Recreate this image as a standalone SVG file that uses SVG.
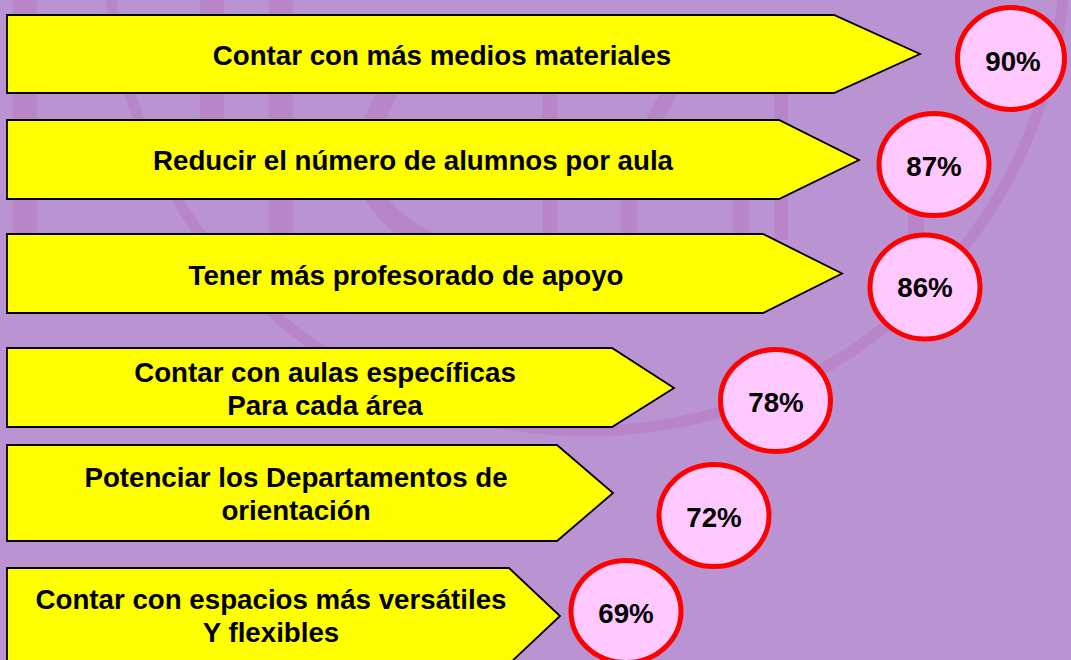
<svg xmlns="http://www.w3.org/2000/svg" width="1071" height="660" viewBox="0 0 1071 660">
<style>
.bg{fill:#BA93D2}
.wm{fill:none;stroke:#B985C9}
.arrow{fill:#FFFF00;stroke:#000;stroke-width:1.8;stroke-linejoin:miter}
.pct{fill:#FFC8FF;stroke:#FF0000;stroke-width:5}
.t{font-family:"Liberation Sans",Arial,sans-serif;font-weight:bold;font-size:27.7px;fill:#000;text-anchor:middle}
</style>
<rect class="bg" x="0" y="0" width="1071" height="660"/>
<g id="watermark" class="wm">
  <circle cx="587" cy="-47" r="478" stroke-width="11"/>
  <path d="M25 0V245" stroke-width="24"/>
  <path d="M212 0V190" stroke-width="24"/>
  <path d="M281 0V240" stroke-width="24"/>
  <path d="M420 45C392 80 368 120 366 160C366 205 400 235 470 258" stroke-width="20"/>
  <path d="M550 60V240" stroke-width="15"/>
  <path d="M700 40C668 95 632 150 629 200V240" stroke-width="16"/>
  <path d="M741 150V240" stroke-width="16"/>
  <path d="M781 60V240" stroke-width="14"/>
  <path d="M916 195V235" stroke-width="16"/>
</g>
<g id="connectors"/>
<g id="item1-label">
  <polygon class="arrow" points="7,15 834,15 920,54 834,93 7,93"/>
  <text class="t" x="442" y="65">Contar con más medios materiales</text>
</g>
<g id="item1-value">
  <ellipse class="pct" cx="1011" cy="58.5" rx="53.5" ry="51"/>
  <text class="t" x="1013" y="71">90%</text>
</g>
<g id="item2-label">
  <polygon class="arrow" points="7,120 779,120 859,160 779,199 7,199"/>
  <text class="t" x="413" y="170">Reducir el número de alumnos por aula</text>
</g>
<g id="item2-value">
  <ellipse class="pct" cx="934" cy="164.5" rx="55" ry="51"/>
  <text class="t" x="934" y="176">87%</text>
</g>
<g id="item3-label">
  <polygon class="arrow" points="7,234 763,234 842,273.5 763,313 7,313"/>
  <text class="t" x="406" y="285">Tener más profesorado de apoyo</text>
</g>
<g id="item3-value">
  <ellipse class="pct" cx="925" cy="287" rx="55" ry="52"/>
  <text class="t" x="925" y="297">86%</text>
</g>
<g id="item4-label">
  <polygon class="arrow" points="7,348 612,348 674,388 612,427 7,427"/>
  <text class="t" x="325" y="382">Contar con aulas específicas</text>
  <text class="t" x="325" y="415">Para cada área</text>
</g>
<g id="item4-value">
  <ellipse class="pct" cx="775.5" cy="400.5" rx="55" ry="51"/>
  <text class="t" x="776" y="412">78%</text>
</g>
<g id="item5-label">
  <polygon class="arrow" points="7,445 557,445 613,493 557,541 7,541"/>
  <text class="t" x="296" y="487">Potenciar los Departamentos de</text>
  <text class="t" x="296" y="520">orientación</text>
</g>
<g id="item5-value">
  <ellipse class="pct" cx="714" cy="515.5" rx="55" ry="51"/>
  <text class="t" x="714" y="527">72%</text>
</g>
<g id="item6-label">
  <polygon class="arrow" points="7,568 509,568 560,616 509,664 7,664"/>
  <text class="t" x="271" y="609">Contar con espacios más versátiles</text>
  <text class="t" x="271" y="642">Y flexibles</text>
</g>
<g id="item6-value">
  <ellipse class="pct" cx="626" cy="611.5" rx="55" ry="51"/>
  <text class="t" x="626" y="623">69%</text>
</g>
</svg>
